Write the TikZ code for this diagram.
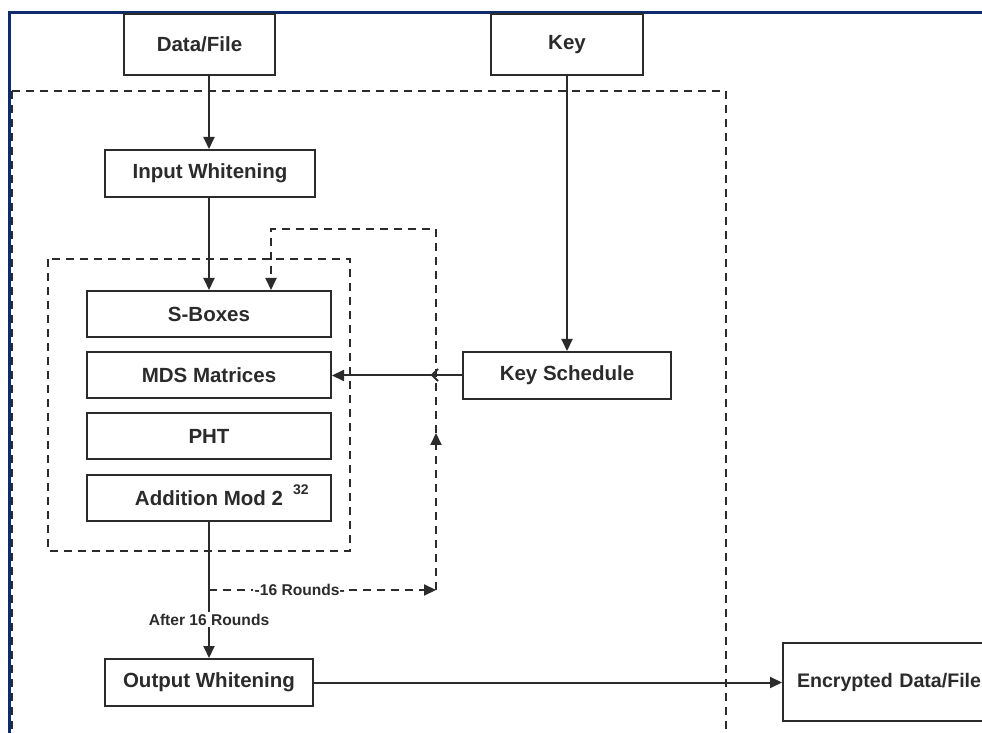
\documentclass[tikz,border=0pt]{standalone}
\usepackage{fontspec}
\setmainfont{Liberation Sans}
\usetikzlibrary{arrows.meta,calc}
\definecolor{navy}{HTML}{0E2C6C}
\definecolor{ink}{HTML}{2B2B2B}
\begin{document}
\begin{tikzpicture}[x=0.5pt,y=-0.5pt,
  box/.style={draw=ink,line width=1pt,fill=white,text=ink,inner sep=0pt,
    font=\fontsize{10.25}{12}\selectfont\bfseries},
  lbl/.style={fill=white,text=ink,inner sep=1pt,font=\fontsize{7.8}{9}\selectfont\bfseries},
  arr/.style={draw=ink,line width=1pt,-{Triangle[length=6pt,width=5.5pt]}},
  plain/.style={draw=ink,line width=1pt},
  dasharr/.style={draw=ink,line width=1pt,dash pattern=on 4pt off 3pt,-{Triangle[length=6pt,width=5.5pt]}},
  dbox/.style={draw=ink,line width=1pt,dash pattern=on 4pt off 3pt}]
\path[use as bounding box,clip] (0,0) rectangle (982,733);
\fill[white] (0,0) rectangle (982,733);
% frames
\draw[navy,line width=1.5pt] (9.5,740) -- (9.5,12.5) -- (990,12.5);
\draw[dbox] (12,91) rectangle (726,760);
\draw[dbox] (48,259) rectangle (350,551);
% nodes
\node[box,minimum width=75.5pt,minimum height=30.5pt] (data) at (199.5,44.5) {Data/File};
\node[box,minimum width=76pt,minimum height=30.5pt] (key) at (567,44.5) {Key};
\node[box,minimum width=105pt,minimum height=23.5pt] (inw) at (210,173.5) {Input Whitening};
\node[box,minimum width=122pt,minimum height=23pt] (sbox) at (209,314) {S-Boxes};
\node[box,minimum width=122pt,minimum height=23pt] (mds) at (209,375) {MDS Matrices};
\node[box,minimum width=122pt,minimum height=23pt] (pht) at (209,436) {PHT};
\node[box,minimum width=122pt,minimum height=23pt] (add) at (209,498)
  {Addition Mod 2\rlap{\smash{\hspace{5pt}\raisebox{5.5pt}{\fontsize{7}{7}\selectfont 32}}}};
\node[box,minimum width=104pt,minimum height=23.5pt] (ks) at (567,375.5) {Key Schedule};
\node[box,minimum width=104pt,minimum height=23.5pt] (outw) at (209,682.5) {Output Whitening};
\node[box,minimum width=110pt,minimum height=39pt,text width=96pt,align=left,
  font=\fontsize{9.8}{12}\selectfont\bfseries] (enc) at (893,682) {Encrypted Data/File};
% coordinates
\coordinate (split) at (209,590);
\coordinate (c1) at (436,590);
\coordinate (c2) at (436,433);
\coordinate (ctop) at (436,229);
\coordinate (cleft) at (271,229);
\coordinate (jump) at (436,375);
% connectors
\draw[arr] (data.south -| sbox) -- (inw.north -| sbox);
\draw[arr] (inw.south -| sbox) -- (sbox.north);
\draw[arr] (key.south) -- (ks.north);
\draw[arr] (ks.west) -- (ks.west -| mds.east);
\draw[plain] ($(jump)+(2,-6)$) -- ($(jump)+(-4,0)$) -- ($(jump)+(2,6)$);
\draw[arr] (add.south) -- node[lbl,pos=0.717] {After 16 Rounds} (outw.north);
\draw[dasharr] (split) -- node[lbl,pos=0.40] {-16 Rounds-} (c1);
\draw[dasharr] (c1) -- (c2);
\draw[dasharr] (c2) -- (ctop) -- (cleft) -- (sbox.north -| cleft);
\draw[arr] (outw.east) -- (outw.east -| enc.west);
\end{tikzpicture}
\end{document}
